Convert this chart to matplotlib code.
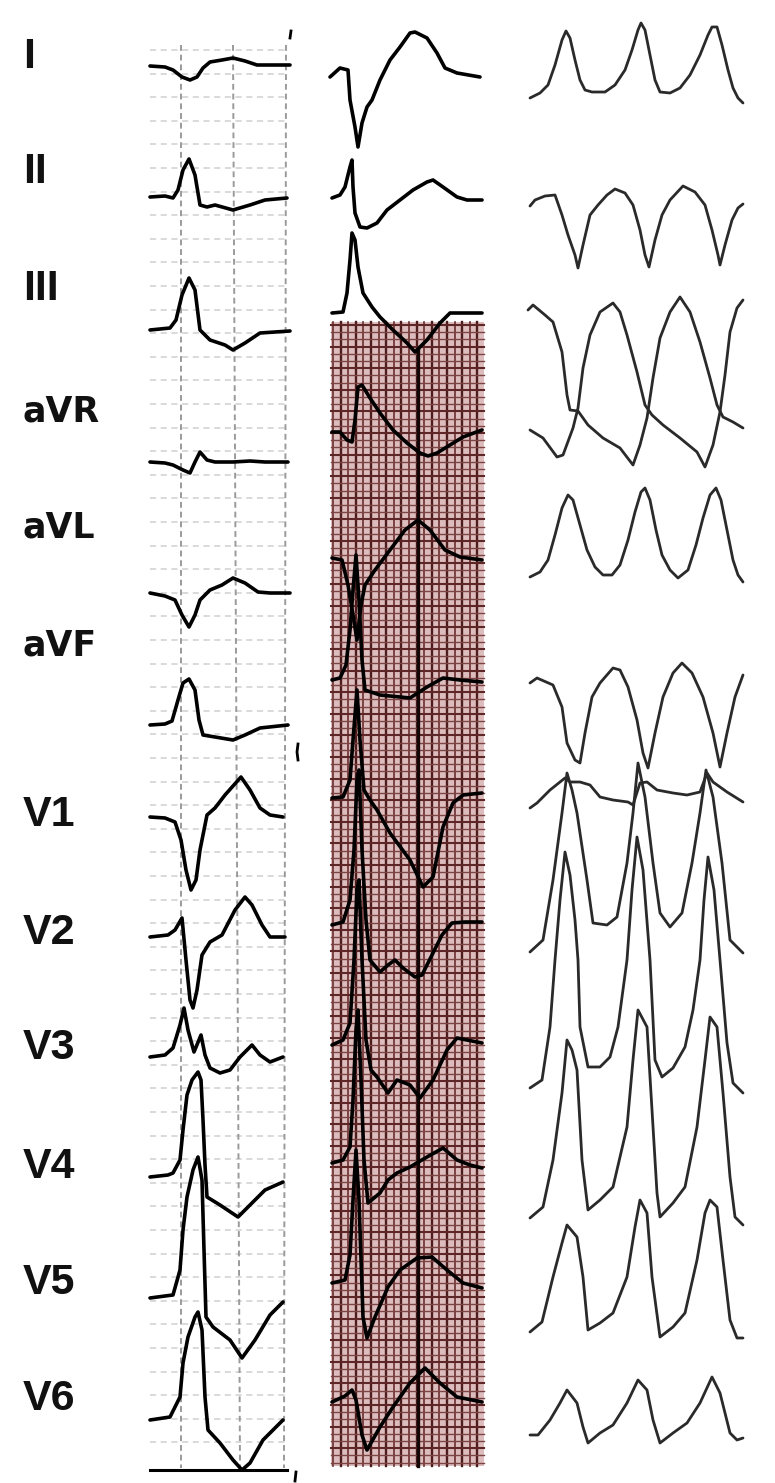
import matplotlib
matplotlib.use("Agg")
import matplotlib.pyplot as plt
import numpy as np

W, H = 775, 1483
LEADS = ["I", "II", "III", "aVR", "aVL", "aVF", "V1", "V2", "V3", "V4", "V5", "V6"]

# ---------------- data: time offsets (t) and amplitudes (a) per lead -------------
col1_t = {
    "I":   [0, 15, 23, 32, 40, 47, 53, 60, 72, 83, 95, 107, 120, 140],
    "II":  [0, 15, 23, 28, 33, 39, 45, 50, 57, 65, 83, 100, 115, 137],
    "III": [0, 20, 26, 32, 39, 45, 50, 60, 75, 83, 95, 110, 140],
    "aVR": [0, 15, 23, 33, 40, 45, 50, 57, 65, 83, 100, 115, 138],
    "aVL": [0, 15, 25, 32, 39, 45, 50, 60, 72, 83, 95, 108, 120, 140],
    "aVF": [0, 15, 22, 28, 33, 39, 45, 49, 53, 65, 83, 95, 110, 138],
    "V1":  [0, 15, 25, 31, 36, 41, 46, 50, 57, 65, 75, 91, 100, 110, 120, 133],
    "V2":  [0, 18, 25, 32, 36, 40, 43, 47, 52, 60, 72, 85, 95, 102, 112, 120, 135],
    "V3":  [0, 15, 23, 30, 34, 38, 44, 51, 55, 60, 70, 80, 90, 102, 110, 120, 133],
    "V4":  [0, 18, 23, 30, 33, 37, 42, 48, 51, 53, 55, 57, 70, 88, 100, 115, 133],
    "V5":  [0, 15, 23, 30, 33, 37, 43, 48, 52, 54, 56, 63, 80, 92, 105, 120, 133],
    "V6":  [0, 20, 30, 33, 38, 45, 48, 52, 55, 58, 70, 83, 92, 100, 113, 133],
}
col1_a = {
    "I":   [0, -1, -4, -11, -14, -11, -2, 4, 6, 8, 5, 1, 1, 1],
    "II":  [0, 1, -1, 7, 27, 38, 22, -8, -10, -8, -13, -8, -3, -1],
    "III": [0, 2, 10, 35, 52, 40, 0, -10, -15, -20, -13, -3, -1],
    "aVR": [0, -1, -3, -8, -11, 0, 10, 2, 0, 0, 1, 0, 0],
    "aVL": [0, -3, -7, -22, -34, -22, -7, 3, 8, 15, 10, 1, 0, 0],
    "aVF": [0, 1, 4, 25, 42, 46, 35, 5, -10, -12, -15, -10, -3, 0],
    "V1":  [0, -1, -5, -23, -53, -73, -63, -33, 2, 9, 22, 40, 27, 9, 2, 0],
    "V2":  [0, 2, 7, 19, -23, -63, -71, -53, -18, -5, 2, 27, 40, 32, 12, 0, 0],
    "V3":  [0, 2, 9, 32, 49, 27, 5, 22, 2, -11, -16, -13, 0, 12, 2, -5, 0],
    "V4":  [0, 2, 4, 17, 47, 82, 97, 105, 97, 57, 12, -20, -28, -40, -28, -13, -5],
    "V5":  [0, 2, 3, 28, 68, 101, 128, 141, 118, 48, -19, -29, -42, -60, -42, -17, -4],
    "V6":  [-2, 1, 21, 55, 81, 101, 106, 88, 21, -12, -25, -42, -52, -45, -22, -2],
}

col2_t = {
    "I":   [-2, 8, 16, 18, 23, 26, 30, 35, 40, 48, 58, 68, 78, 83, 95, 105, 113, 125, 148],
    "II":  [0, 8, 13, 18, 20, 21, 23, 28, 35, 45, 55, 68, 81, 95, 101, 111, 125, 135, 150],
    "III": [0, 11, 15, 18, 20, 23, 26, 31, 40, 48, 61, 75, 83, 95, 108, 118, 150],
    "aVR": [0, 8, 15, 20, 23, 26, 30, 38, 48, 61, 75, 88, 96, 105, 118, 131, 150],
    "aVL": [0, 10, 16, 21, 25, 29, 33, 43, 58, 73, 86, 98, 113, 128, 150],
    "aVF": [0, 8, 14, 18, 21, 24, 27, 30, 33, 48, 78, 95, 111, 128, 150],
    "V1":  [0, 11, 18, 21, 25, 28, 32, 38, 45, 58, 78, 91, 101, 111, 121, 131, 150],
    "V2":  [0, 11, 18, 22, 25, 27, 30, 34, 38, 48, 56, 63, 71, 83, 90, 100, 110, 120, 133, 150],
    "V3":  [0, 11, 18, 22, 25, 27, 30, 34, 39, 45, 56, 65, 78, 88, 101, 115, 125, 150],
    "V4":  [0, 11, 18, 21, 24, 26, 29, 32, 36, 48, 56, 65, 78, 95, 111, 125, 138, 150],
    "V5":  [0, 13, 18, 21, 24, 27, 31, 35, 43, 56, 68, 85, 100, 115, 131, 150],
    "V6":  [0, 13, 20, 24, 30, 35, 48, 61, 78, 93, 108, 125, 150],
}
col2_a = {
    "I":   [0, 9, 7, -23, -50, -70, -46, -30, -23, -3, 17, 30, 44, 45, 39, 24, 9, 4, 0],
    "II":  [0, 3, 11, 31, 38, 11, -15, -29, -30, -25, -12, -2, 8, 16, 18, 11, 1, -2, -2],
    "III": [0, 1, 20, 53, 80, 73, 46, 20, 6, -4, -17, -30, -39, -27, -10, 0, 0],
    "aVR": [0, 0, -8, -10, 12, 45, 47, 34, 19, 2, -11, -21, -24, -21, -13, -5, 2],
    "aVL": [0, -2, -27, -57, -82, -47, -27, -12, 8, 28, 38, 28, 8, 1, -2],
    "aVF": [0, 2, 15, 50, 90, 125, 80, 20, -10, -15, -18, -7, 2, 0, -2],
    "V1":  [-1, 0, 17, 57, 107, 57, 7, -3, -13, -36, -63, -90, -80, -30, -6, 2, 4],
    "V2":  [-1, 2, 24, 74, 144, 154, 74, 4, -36, -48, -41, -36, -44, -53, -51, -31, -11, 1, 2, 2],
    "V3":  [-1, 4, 21, 84, 154, 164, 84, 4, -26, -33, -49, -36, -41, -54, -36, -6, 6, 1],
    "V4":  [1, 4, 17, 64, 134, 154, 84, 4, -39, -29, -16, -9, -3, 7, 16, 4, -1, -4],
    "V5":  [1, 4, 29, 84, 134, 84, -33, -54, -33, -3, 14, 26, 27, 14, 1, -4],
    "V6":  [-1, 5, 11, 1, -34, -49, -26, -6, 18, 33, 18, 4, -1],
}

col3_t = {
    "I":   [0, 10, 18, 25, 32, 36, 40, 45, 50, 55, 62, 75, 85, 95, 102, 108, 111, 115, 120,
            125, 130, 140, 150, 160, 170, 178, 182, 187, 192, 198, 203, 208, 213],
    "II":  [0, 5, 15, 25, 32, 38, 45, 48, 53, 60, 68, 77, 85, 95, 103, 110, 115, 119, 125,
            132, 140, 153, 165, 175, 182, 188, 190, 195, 202, 208, 213],
    "III": [-2, 3, 15, 23, 32, 37, 40, 48, 58, 73, 90, 103, 110, 117, 123, 130, 140, 150,
            160, 170, 180, 187, 193, 203, 213],
    "aVR": [0, 13, 27, 33, 43, 48, 53, 60, 70, 83, 90, 97, 107, 115, 122, 133, 150, 167,
            175, 183, 190, 195, 200, 207, 213],
    "aVL": [0, 10, 18, 25, 32, 38, 43, 50, 57, 65, 73, 82, 90, 98, 105, 111, 115, 120, 126,
            132, 140, 148, 158, 166, 173, 180, 186, 191, 197, 203, 208, 213],
    "aVF": [0, 7, 23, 32, 37, 45, 50, 55, 62, 70, 83, 90, 98, 107, 113, 118, 125, 133, 143,
            152, 162, 173, 183, 190, 197, 205, 213],
    "V1":  [0, 7, 20, 30, 35, 40, 50, 60, 70, 83, 98, 103, 110, 117, 127, 143, 157, 170,
            177, 183, 197, 213],
    "V2":  [0, 13, 23, 32, 37, 42, 47, 57, 63, 77, 87, 97, 103, 108, 115, 123, 130, 140,
            152, 162, 170, 176, 183, 192, 200, 213],
    "V3":  [0, 12, 20, 25, 30, 35, 40, 45, 48, 50, 58, 70, 80, 88, 97, 102, 107, 113, 120,
            125, 132, 143, 155, 163, 170, 174, 178, 184, 190, 197, 203, 213],
    "V4":  [0, 13, 23, 32, 37, 42, 47, 52, 58, 70, 83, 97, 103, 108, 117, 122, 127, 130,
            143, 155, 167, 175, 180, 187, 193, 200, 205, 213],
    "V5":  [0, 12, 23, 32, 37, 47, 53, 58, 70, 83, 97, 105, 110, 117, 122, 130, 143, 155,
            167, 175, 180, 187, 193, 200, 207, 213],
    "V6":  [0, 8, 20, 30, 37, 47, 53, 58, 70, 83, 97, 108, 117, 123, 130, 143, 157, 170,
            182, 190, 200, 207, 213],
}
col3_a = {
    "I":   [0, 5, 13, 33, 58, 67, 60, 38, 18, 8, 6, 6, 13, 28, 48, 68, 75, 68, 43,
            18, 6, 5, 10, 23, 43, 63, 71, 71, 53, 28, 10, 0, -5],
    "II":  [-1, 5, 9, 10, -10, -30, -50, -63, -40, -10, 0, 10, 16, 12, 0, -25, -50, -62, -35,
            -10, 5, 19, 13, 0, -25, -50, -60, -40, -15, -3, 1],
    "III": [-2, 3, -7, -14, -44, -87, -102, -103, -117, -130, -140, -157, -137, -110, -70,
            -30, -4, 11, -4, -34, -70, -97, -109, -114, -120],
    "aVR": [0, -8, -27, -25, 2, 22, 62, 95, 118, 127, 118, 95, 58, 25, 15, 5, -8, -22,
            -37, -15, 18, 55, 98, 122, 130],
    "aVL": [0, 5, 17, 42, 69, 82, 77, 52, 27, 10, 2, 2, 12, 37, 65, 85, 89, 77, 47,
            22, 7, -1, 7, 32, 59, 82, 89, 77, 47, 17, 2, -5],
    "aVF": [0, 5, -2, -24, -60, -77, -80, -50, -14, 0, 15, 13, -4, -37, -70, -85, -50, -14,
            10, 20, 10, -14, -50, -84, -50, -14, 8],
    "V1":  [0, 5, 18, 26, 30, 26, 26, 23, 11, 8, 6, 3, 25, 26, 18, 15, 13, 16,
            35, 26, 16, 6],
    "V2":  [0, 12, 72, 139, 179, 162, 139, 72, 29, 27, 35, 89, 139, 189, 155, 89, 39, 25,
            39, 89, 139, 182, 155, 89, 12, -1],
    "V3":  [0, 8, 61, 128, 188, 236, 213, 168, 128, 61, 21, 21, 31, 61, 128, 198, 251, 218,
            128, 28, 11, 20, 41, 78, 128, 188, 231, 198, 128, 45, 5, -5],
    "V4":  [0, 11, 58, 125, 178, 168, 148, 58, 8, 18, 31, 91, 158, 208, 191, 108, 25, 1,
            15, 31, 91, 158, 201, 191, 125, 41, 1, -7],
    "V5":  [0, 10, 55, 89, 107, 95, 55, 2, 9, 19, 55, 105, 132, 119, 55, -5, 5, 19,
            72, 119, 132, 125, 72, 12, -6, -6],
    "V6":  [0, 0, 15, 32, 45, 32, 8, -8, 2, 10, 32, 55, 45, 15, -8, 2, 12, 32,
            58, 42, 2, -5, -3],
}

# ---------------- layout ----------------
col_x0 = [150, 332, 530]
col1_base = [66, 197, 330, 462, 593, 725, 817, 937, 1057, 1177, 1298, 1418]
col2_base = [77, 198, 313, 432, 558, 680, 797, 924, 1044, 1164, 1284, 1401]
col3_base = [98, 205, 308, 430, 577, 683, 808, 952, 1088, 1218, 1332, 1435]
label_y = [57, 172, 289, 412, 527, 645, 815, 933, 1048, 1167, 1283, 1399]

fig = plt.figure(figsize=(W / 100, H / 100), dpi=100)
ax = fig.add_axes([0, 0, 1, 1])
ax.set_xlim(0, W)
ax.set_ylim(H, 0)
ax.axis("off")

# ----- column 1 grey dashed grid -----
g1_top, g1_bot, g1_left, g1_right = 45, 1468, 150, 289
for y in np.arange(50, 1466, 23.6):
    ax.plot([g1_left, g1_right], [y, y], color="#cfcfcf", lw=1.1,
            dashes=(4, 3), zorder=1)
for xt, xb in [(181, 181), (233, 240), (286, 284)]:
    ax.plot([xt, xb], [g1_top, g1_bot], color="#9a9a9a", lw=1.4,
            dashes=(3, 2), zorder=1)

# ----- column 2 red grid -----
g2_left, g2_right, g2_top, g2_bot = 331, 484, 322, 1466
ax.add_patch(plt.Rectangle((g2_left, g2_top), g2_right - g2_left, g2_bot - g2_top,
                           facecolor="#dcbcbc", edgecolor="none", zorder=0))
for k, x in enumerate(np.arange(g2_left + 2, g2_right, 7.6)):
    ax.plot([x, x], [g2_top, g2_bot], color="#4e1c1c" if k % 2 else "#6a2e2e",
            lw=1.7 if k % 2 else 1.2, zorder=1)
for k, y in enumerate(np.arange(g2_top + 3, g2_bot, 7.2)):
    ax.plot([g2_left, g2_right], [y, y], color="#5e2626" if k % 3 == 0 else "#7d4444",
            lw=1.5 if k % 3 == 0 else 1.0, zorder=1)
ax.plot([418, 418], [350, g2_bot], color="#140606", lw=2.4, zorder=2)

# ----- traces -----
def draw(col_t, col_a, bases, x0, color, lw):
    for i, lead in enumerate(LEADS):
        t = np.asarray(col_t[lead], float)
        a = np.asarray(col_a[lead], float)
        ax.plot(x0 + t, bases[i] - a, color=color, lw=lw, zorder=4,
                solid_joinstyle="round", solid_capstyle="round")

draw(col1_t, col1_a, col1_base, col_x0[0], "black", 2.6)
draw(col2_t, col2_a, col2_base, col_x0[1], "black", 2.6)
draw(col3_t, col3_a, col3_base, col_x0[2], "#2a2a2a", 2.0)

# bottom line of column 1 and small edge marks
ax.plot([150, 287], [1470, 1470], color="black", lw=2.2, zorder=4)
ax.plot([291, 290], [31, 38], color="black", lw=2.0, zorder=4)
ax.plot([298, 297, 298], [744, 752, 760], color="black", lw=2.0, zorder=4)
ax.plot([296, 295], [1472, 1481], color="black", lw=2.0, zorder=4)

# ----- lead labels -----
for lead, y in zip(LEADS, label_y):
    if lead.startswith("a"):
        ax.text(22, y, lead, fontsize=25, fontweight="bold", family="DejaVu Sans",
                ha="left", va="center", color="#111111")
    else:
        ax.text(23, y, lead, fontsize=31, fontweight="bold", family="Liberation Sans",
                ha="left", va="center", color="#111111")

fig.savefig("out.png", dpi=100, facecolor="white")
